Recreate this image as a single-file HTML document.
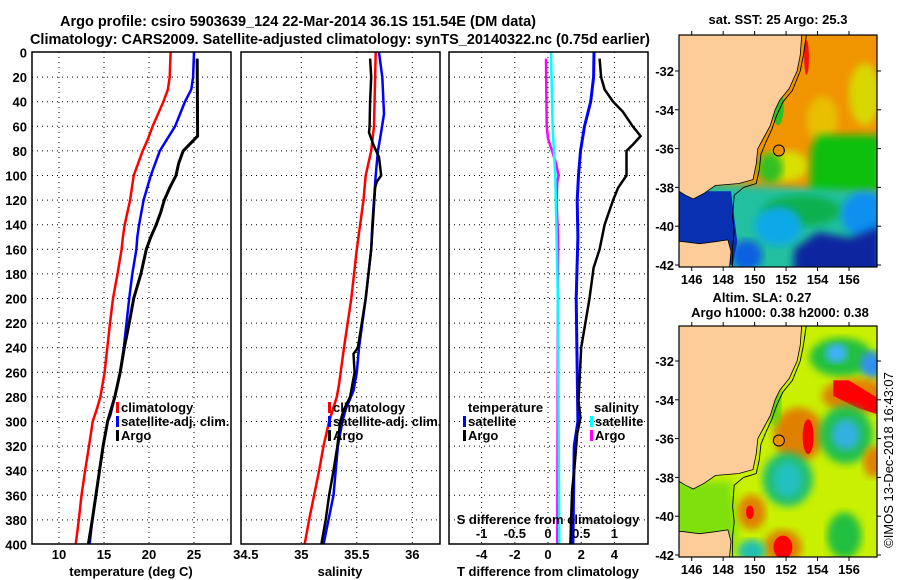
<!DOCTYPE html>
<html><head><meta charset="utf-8"><style>
html,body{margin:0;padding:0;background:#fff;}
svg{display:block;font-family:"Liberation Sans",sans-serif;}
.t{font-size:13px;font-weight:bold;fill:#000;}
</style></head><body>
<svg id="fig" width="900" height="580" viewBox="0 0 900 580" xmlns="http://www.w3.org/2000/svg">
<defs>
<clipPath id="c1"><rect x="32" y="52" width="199" height="492"/></clipPath>
<clipPath id="c2"><rect x="241" y="52" width="199" height="492"/></clipPath>
<clipPath id="c3"><rect x="449" y="52" width="199" height="492"/></clipPath>
<clipPath id="m1"><rect x="679" y="35" width="198" height="232"/></clipPath>
<clipPath id="m2"><rect x="679" y="326" width="198" height="231"/></clipPath>
<filter id="bl"><feGaussianBlur stdDeviation="4"/></filter>
</defs>
<text x="60" y="26" textLength="476" lengthAdjust="spacingAndGlyphs" style="font-size:15px;font-weight:bold">Argo profile: csiro 5903639_124 22-Mar-2014 36.1S 151.54E (DM data)</text>
<text x="30" y="44" textLength="620" lengthAdjust="spacingAndGlyphs" style="font-size:15px;font-weight:bold">Climatology: CARS2009. Satellite-adjusted climatology: synTS_20140322.nc (0.75d earlier)</text>
<g id="g"></g>
</svg>
<script>
const depthTicks=[0,20,40,60,80,100,120,140,160,180,200,220,240,260,280,300,320,340,360,380,400];
const tempTicks=[10,15,20,25];
const salTicks=[34.5,35,35.5,36];
const tDiffTicks=[-4,-2,0,2,4];
const sDiffTicks=[-1,-0.5,0,0.5,1];
const sDiffTickLabels=["-1","-0.5","0","0.5","1"];

const tempClimDepth=[0,20,30,40,60,70,80,100,120,140,150,160,180,200,220,240,260,280,290,300,320,340,360,380,400];
const tempClim=[22.4,22.3,22.1,21.6,20.4,19.9,19.3,18.3,17.9,17.3,17.1,16.96,16.5,16.0,15.67,15.37,15.07,14.6,14.2,13.74,13.33,12.9,12.5,12.2,11.85];
const tempSatDepth=[0,20,30,40,60,80,100,120,140,150,160,180,200,220,240,260,280,295,300,320,340,360,380,400];
const tempSat=[25.0,24.9,24.7,24.0,22.9,21.2,20.2,19.4,18.9,18.7,18.6,18.15,17.8,17.5,17.2,16.8,16.2,15.7,15.4,14.9,14.5,14.1,13.7,13.4];
const argoDepth=[5,68,80,90,100,110,120,130,140,150,160,180,200,220,240,260,280,300,320,340,360,380,400];
const argoTemp=[25.35,25.4,23.8,23.3,23.0,22.3,21.7,21.3,20.8,20.2,19.7,19.1,18.3,17.8,17.25,16.8,16.2,15.4,14.9,14.5,14.1,13.7,13.26];

const salClimDepth=[0,60,80,100,120,160,200,240,270,280,300,320,340,360,380,400];
const salClim=[35.67,35.655,35.63,35.58,35.56,35.50,35.45,35.385,35.34,35.32,35.25,35.2,35.16,35.115,35.07,35.03];
const salSatDepth=[0,20,50,70,80,100,140,160,200,240,260,275,290,300,320,360,400];
const salSat=[35.70,35.73,35.745,35.71,35.69,35.67,35.64,35.63,35.58,35.52,35.5,35.47,35.40,35.37,35.33,35.29,35.2];
const argoSalDepth=[5,20,40,60,65,75,85,100,105,110,160,200,240,245,260,280,290,300,320,340,360,380,400];
const argoSal=[35.62,35.63,35.62,35.615,35.61,35.65,35.70,35.72,35.68,35.665,35.63,35.58,35.51,35.47,35.48,35.44,35.385,35.35,35.325,35.29,35.25,35.22,35.18];

const tDiffSatDepth=[0,20,40,60,80,100,120,150,200,300,320,400];
const tDiffSat=[2.77,2.75,2.57,2.2,1.96,1.84,1.76,1.8,1.7,1.8,1.58,1.5];
const tDiffArgoDepth=[5,20,30,40,48,60,68,75,80,100,110,120,140,160,175,200,240,283,297,310,340,356,380,400];
const tDiffArgo=[3.11,3.2,3.41,3.92,4.5,5.1,5.58,5.1,4.73,4.73,4.22,3.92,3.41,3.11,2.75,2.5,2.0,1.84,1.96,1.76,1.58,1.45,1.39,1.35];
const sDiffSatDepth=[0,60,100,150,200,400];
const sDiffSat=[0.045,0.07,0.11,0.13,0.147,0.17];
const sDiffArgoDepth=[5,60,70,80,90,100,105,120,150,400];
const sDiffArgo=[-0.03,-0.02,0.0,0.06,0.12,0.16,0.14,0.13,0.15,0.14];

const NS="http://www.w3.org/2000/svg";
const G=document.getElementById('g');
function mk(tag,attrs,parent){const e=document.createElementNS(NS,tag);for(const k in attrs)e.setAttribute(k,attrs[k]);(parent||G).appendChild(e);return e;}
const yD=d=>52.5+d*1.23;
const xT=t=>59+(t-10)*9;
const xS=s=>301.3+(s-35)*111;
const xTd=t=>548+t*16.6;
const xSd=s=>548+s*4*16.6;

const panels=[{x:32,clip:'c1',n:'temperature-panel'},{x:241,clip:'c2',n:'salinity-panel'},{x:449,clip:'c3',n:'difference-panel'}];
panels.forEach((p,i)=>{
  const grp=mk('g',{});
  
  
  p.g=grp;
  depthTicks.forEach(d=>{
    if(d===0||d===400)return;
    const l=mk('line',{x1:p.x,x2:p.x+199,y1:yD(d),y2:yD(d),stroke:'#000','stroke-width':1,'stroke-dasharray':'1,4'},grp);
    
    
  });
});
function vgrid(p,vals,fx){vals.forEach(v=>{const l=mk('line',{x1:fx(v),x2:fx(v),y1:52,y2:544,stroke:'#000','stroke-width':1,'stroke-dasharray':'1,4'},p.g);

});}
vgrid(panels[0],tempTicks,xT);
vgrid(panels[1],salTicks.slice(1),xS);
vgrid(panels[2],tDiffTicks,xTd);

function series(p,ds,vs,fx,color,w,name){
  const pts=ds.map((d,i)=>fx(vs[i]).toFixed(1)+','+yD(d).toFixed(1)).join(' ');
  const l=mk('polyline',{points:pts,fill:'none',stroke:color,'stroke-width':w,'clip-path':'url(#'+p.clip+')'},p.g);
  
  
}
series(panels[0],tempClimDepth,tempClim,xT,'#ff0000',2.5,'climatology-temperature-line');
series(panels[0],tempSatDepth,tempSat,xT,'#0000ff',2.5,'satellite-temperature-line');
series(panels[0],argoDepth,argoTemp,xT,'#000',3,'argo-temperature-line');
series(panels[1],salClimDepth,salClim,xS,'#ff0000',2.5,'climatology-salinity-line');
series(panels[1],salSatDepth,salSat,xS,'#0000ff',2.5,'satellite-salinity-line');
series(panels[1],argoSalDepth,argoSal,xS,'#000',2.5,'argo-salinity-line');
series(panels[2],sDiffArgoDepth,sDiffArgo,xSd,'#ff00ff',2.5,'argo-salinity-diff-line');
series(panels[2],sDiffSatDepth,sDiffSat,xSd,'#00ffff',2.5,'satellite-salinity-diff-line');
series(panels[2],tDiffSatDepth,tDiffSat,xTd,'#0000ff',3,'satellite-temperature-diff-line');
series(panels[2],tDiffArgoDepth,tDiffArgo,xTd,'#000',2.5,'argo-temperature-diff-line');

panels.forEach(p=>{const r=mk('rect',{x:p.x,y:52,width:199,height:492,fill:'none',stroke:'#000','stroke-width':1.5},p.g);

});

function txt(x,y,s,anchor,name,extra){const t=mk('text',Object.assign({x:x,y:y,'text-anchor':anchor||'start',class:'t'},extra||{}));t.textContent=s;

return t;}
depthTicks.forEach(d=>txt(27,yD(d)+5,String(d),'end','depth-tick-label'));
tempTicks.forEach(v=>txt(xT(v),559,String(v),'middle','temperature-tick-label'));
salTicks.forEach(v=>txt(xS(v),559,String(v),'middle','salinity-tick-label'));
tDiffTicks.forEach(v=>txt(xTd(v),559,String(v),'middle','t-diff-tick-label'));
sDiffTicks.forEach((v,i)=>txt(xSd(v),538,sDiffTickLabels[i],'middle','s-diff-tick-label'));
txt(131,576,'temperature (deg C)','middle','x-axis-title-temperature');
txt(340,576,'salinity','middle','x-axis-title-salinity');
txt(548,576,'T difference from climatology','middle','x-axis-title-t-diff');
txt(548,524,'S difference from climatology','middle','s-diff-axis-title');

function legend(x,y,color,label,name){const r=mk('rect',{x:x,y:y-10,width:3,height:11,fill:color});


txt(x+5,y,label,'start',name);}
legend(116,412,'#ff0000','climatology','legend-climatology');
legend(116,426,'#0000ff','satellite-adj. clim.','legend-satellite');
legend(116,440,'#000','Argo','legend-argo');
legend(328,412,'#ff0000','climatology','legend-climatology-sal');
legend(328,426,'#0000ff','satellite-adj. clim.','legend-satellite-sal');
legend(328,440,'#000','Argo','legend-argo-sal');
txt(468,412,'temperature','start','legend-temperature-header');
legend(463,426,'#0000ff','satellite','legend-t-satellite');
legend(463,440,'#000','Argo','legend-t-argo');
txt(594,412,'salinity','start','legend-salinity-header');
legend(590,426,'#00ffff','satellite','legend-s-satellite');
legend(590,440,'#ff00ff','Argo','legend-s-argo');

// maps
const mapLonTicks=[146,148,150,152,154,156];
const mapLatTicks=[-32,-34,-36,-38,-40,-42];
const argoLon=151.54, argoLat=-36.1;
const coast=[[153.0,-30.1],[152.9,-31.2],[152.7,-32],[152.2,-32.9],[151.6,-33.5],[151.3,-34],[151.0,-34.8],[150.6,-35.4],[150.2,-36],[150.1,-36.8],[149.9,-37.6],[149.0,-37.8],[147.5,-37.9],[146.8,-38.3],[146.1,-38.6],[145.6,-38.4],[145.2,-38.2],[144,-38.2],[144,-30],[153,-30]];
const tas=[[144,-40.7],[145.5,-40.8],[146.5,-40.9],[147.5,-40.8],[148.3,-40.7],[148.5,-41.3],[148.3,-43],[144,-43]];
const shelf=[[153.3,-30.1],[153.1,-31.2],[152.9,-32],[152.4,-33],[151.8,-33.6],[151.4,-34.3],[151.1,-35],[150.7,-35.7],[150.4,-36.3],[150.3,-37.1],[150.1,-37.8],[149.3,-38],[148.7,-38.4],[148.6,-39.5],[148.7,-40.3],[148.6,-41],[148.6,-42.2]];
function mapFrame(top,clip,name){
  const X=lon=>691.7+(lon-146)*15.73;
  const Y=lat=>top+(-32-lat)*19.4;
  const grp=mk('g',{'clip-path':'url(#'+clip+')'});
  
  
  return {X,Y,grp};
}
function poly(m,arr,fill,name,extra){const p=mk('polygon',Object.assign({points:arr.map(a=>m.X(a[0]).toFixed(1)+','+m.Y(a[1]).toFixed(1)).join(' '),fill:fill},extra||{}),m.grp);

return p;}
function ell(m,lon,lat,rl,rt,fill,name,blur){const e=mk('ellipse',{cx:m.X(lon),cy:m.Y(lat),rx:rl*15.73,ry:rt*19.4,fill:fill},m.grp);if(blur)e.setAttribute('filter','url(#bl)');

}
function axes(m,y0,y1){
  const r=mk('rect',{x:679,y:y0,width:198,height:y1-y0,fill:'none',stroke:'#000','stroke-width':1.2});
  
  
  mapLonTicks.forEach(v=>{mk('line',{x1:m.X(v),x2:m.X(v),y1:y0-4,y2:y0,stroke:'#000'});mk('line',{x1:m.X(v),x2:m.X(v),y1:y1,y2:y1+4,stroke:'#000'});txt(m.X(v),y1+17,String(v),'middle','map-lon-tick-label');});
  mapLatTicks.forEach(v=>{mk('line',{x1:675,x2:679,y1:m.Y(v),y2:m.Y(v),stroke:'#000'});mk('line',{x1:877,x2:881,y1:m.Y(v),y2:m.Y(v),stroke:'#000'});txt(674,m.Y(v)+5,String(v),'end','map-lat-tick-label');});
}
// map 1 SST
const m1=mapFrame(71,'m1','sst-map');
mk('rect',{x:679,y:35,width:198,height:232,fill:'#f09400'},m1.grp);
ell(m1,157,-33.2,1.0,1.6,'#d8d800','sst-yellow-east',true);
ell(m1,154.3,-34.5,1.0,1.2,'#e8c000','sst-yellow-mid',true);
ell(m1,152.0,-36.9,1.4,0.8,'#d8e000','sst-yellow-south',true);
poly(m1,[[154,-35.3],[158,-35.3],[158,-38.2],[153.5,-38.6],[153.6,-36]],'#10c010','sst-green-eddy',{filter:'url(#bl)'});
ell(m1,151,-37.0,0.8,0.8,'#30c020','sst-green-coast',true);
poly(m1,[[144,-37.7],[158,-38.2],[158,-43],[144,-43]],'#20c0a0','sst-teal-south',{filter:'url(#bl)'});
ell(m1,153,-39.2,2.5,0.8,'#10b050','sst-green-south',true);
ell(m1,151.5,-40,1.5,1.0,'#10a8e8','sst-cyan',true);
ell(m1,157,-39.4,1.5,1.2,'#1090f0','sst-blue-east',true);
poly(m1,[[152.5,-41.2],[154,-40.3],[156,-40.6],[158,-40],[158,-43],[152.5,-43]],'#0828a0','sst-dark-blue-south',{filter:'url(#bl)'});
ell(m1,149.5,-41.5,1.0,0.8,'#1060e0','sst-blue-sw',true);
poly(m1,[[144,-38.2],[148.5,-38.2],[148.9,-40.8],[148.6,-42],[144,-42]],'#0830b0','sst-bass-strait');
ell(m1,153.3,-31.3,0.15,0.9,'#ff1010','sst-red-coast');
ell(m1,151.5,-33.8,0.35,1.0,'#30c020','sst-green-strip',false);
poly(m1,coast,'#fccc99','sst-land',{stroke:'#000','stroke-width':0.8});
poly(m1,tas,'#fccc99','sst-land-south',{stroke:'#000','stroke-width':0.8});
const s1=mk('polyline',{points:shelf.map(a=>m1.X(a[0]).toFixed(1)+','+m1.Y(a[1]).toFixed(1)).join(' '),fill:'none',stroke:'#000','stroke-width':0.9},m1.grp);


const a1=mk('circle',{cx:m1.X(argoLon),cy:m1.Y(argoLat),r:5.5,fill:'#e89000',stroke:'#000','stroke-width':1});


axes(m1,35,267);
txt(778,24,'sat. SST: 25 Argo: 25.3','middle','sst-map-title');
// map 2 SLA
const m2=mapFrame(361,'m2','sla-map');
mk('rect',{x:679,y:326,width:198,height:231,fill:'#c8f000'},m2.grp);
ell(m2,155.5,-31.8,2.0,1.0,'#20c040','sla-green-ne',true);
ell(m2,155.2,-31.6,0.7,0.5,'#40b0ff','sla-cyan-ne',true);
ell(m2,157.5,-32.2,0.8,0.7,'#3090f0','sla-blue-ne',true);
ell(m2,156.5,-33.8,2.2,0.9,'#e08000','sla-orange-band',true);
poly(m2,[[155,-33],[156,-33],[158,-34],[158,-34.8],[156.5,-34.4],[155,-33.8]],'#ff0000','sla-red-band');
ell(m2,152.8,-35.8,1.6,1.4,'#e08000','sla-orange-centre',true);
ell(m2,153.4,-35.9,0.35,0.9,'#ff0000','sla-red-centre');
ell(m2,155.8,-35.8,1.7,1.5,'#20c050','sla-green-eddy',true);
ell(m2,155.8,-35.8,0.9,0.8,'#30b0e0','sla-cyan-eddy',true);
ell(m2,157.6,-37.2,0.7,0.8,'#e08000','sla-orange-east',true);
ell(m2,152.1,-38.1,1.6,1.4,'#20c070','sla-green-south',true);
ell(m2,152.1,-38.1,0.9,0.9,'#20c0c0','sla-teal-south',true);
ell(m2,149.8,-39.8,0.9,0.9,'#e08000','sla-orange-sw',true);
ell(m2,149.7,-39.8,0.25,0.35,'#ff0000','sla-red-sw');
ell(m2,151.8,-41.6,1.2,0.9,'#e08000','sla-orange-s',true);
ell(m2,151.8,-41.6,0.6,0.6,'#ff0000','sla-red-s');
ell(m2,149.8,-41.8,0.9,0.6,'#20c0b0','sla-teal-sw',true);
ell(m2,155.7,-41,1.1,1.2,'#20c040','sla-green-se',true);
poly(m2,[[144,-38.2],[148.5,-38.2],[148.9,-40.8],[148.6,-42],[144,-42]],'#80e010','sla-bass-strait',{filter:'url(#bl)'});
ell(m2,151.3,-33.8,0.35,1.6,'#40d010','sla-green-strip',true);
poly(m2,coast,'#fccc99','sla-land',{stroke:'#000','stroke-width':0.8});
poly(m2,tas,'#fccc99','sla-land-south',{stroke:'#000','stroke-width':0.8});
const s2=mk('polyline',{points:shelf.map(a=>m2.X(a[0]).toFixed(1)+','+m2.Y(a[1]).toFixed(1)).join(' '),fill:'none',stroke:'#000','stroke-width':0.9},m2.grp);


const a2=mk('circle',{cx:m2.X(argoLon),cy:m2.Y(argoLat),r:5.5,fill:'#e89000',stroke:'#000','stroke-width':1});


axes(m2,326,557);
txt(762,302,'Altim. SLA: 0.27','middle','sla-map-title');
txt(780,317,'Argo h1000: 0.38 h2000: 0.38','middle','sla-map-subtitle');
const cr=txt(0,0,'©IMOS 13-Dec-2018 16:43:07','middle','copyright-stamp',{transform:'translate(893,460) rotate(-90)'});
cr.setAttribute('style','font-weight:normal;font-size:13px');
</script>
</body></html>
